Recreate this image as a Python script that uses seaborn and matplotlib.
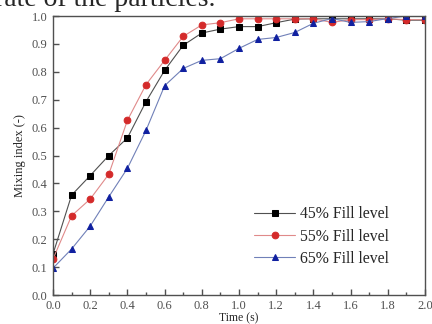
import matplotlib
matplotlib.use("Agg")
import matplotlib.pyplot as plt
import seaborn as sns
import pandas as pd
from matplotlib.ticker import MultipleLocator

time_s = [0.0, 0.1, 0.2, 0.3, 0.4, 0.5, 0.6, 0.7, 0.8, 0.9, 1.0,
          1.1, 1.2, 1.3, 1.4, 1.5, 1.6, 1.7, 1.8, 1.9, 2.0]
fill_45 = [0.147, 0.358, 0.428, 0.500, 0.563, 0.693, 0.805, 0.895, 0.939, 0.953, 0.962,
           0.962, 0.976, 0.989, 0.990, 0.990, 0.990, 0.990, 0.990, 0.985, 0.985]
fill_55 = [0.129, 0.284, 0.344, 0.433, 0.626, 0.754, 0.841, 0.927, 0.968, 0.976, 0.990,
           0.990, 0.990, 0.990, 0.990, 0.977, 0.987, 0.987, 0.990, 0.987, 0.987]
fill_65 = [0.096, 0.165, 0.247, 0.352, 0.454, 0.590, 0.750, 0.812, 0.841, 0.847, 0.884,
           0.916, 0.923, 0.941, 0.974, 0.991, 0.977, 0.980, 0.991, 1.000, 1.000]
labels = ["45% Fill level", "55% Fill level", "65% Fill level"]

sns.set_style("ticks")
plt.rcParams["font.family"] = ["Liberation Serif", "DejaVu Serif"]

df = pd.DataFrame({"time": time_s, labels[0]: fill_45, labels[1]: fill_55, labels[2]: fill_65})

fig = plt.figure(figsize=(4.32, 3.24), dpi=100)
ax = fig.add_axes([0.1227, 0.0895, 0.8611, 0.8611])

# (label, line colour, marker colour, marker)
styles = [
    (labels[0], "#505050", "#000000", "s"),
    (labels[1], "#e08a8a", "#d42a2a", "o"),
    (labels[2], "#7080b8", "#1020a0", "^"),
]
for lab, lc, mc, mk in styles:
    sns.lineplot(data=df, x="time", y=lab, ax=ax, label=lab, color=lc, lw=0.8,
                 marker=mk, markersize=4.8, markerfacecolor=mc, markeredgecolor=mc)

ax.set_xlim(0, 2.0)
ax.set_ylim(0, 1.0)
ax.xaxis.set_major_locator(MultipleLocator(0.2))
ax.xaxis.set_minor_locator(MultipleLocator(0.1))
ax.yaxis.set_major_locator(MultipleLocator(0.1))
ax.tick_params(which="both", direction="in", top=False, right=False,
               labelsize=9, colors="#505050", width=1.0)
ax.tick_params(which="major", length=4, pad=4)
ax.tick_params(axis="x", which="major", pad=3.5)
ax.tick_params(which="minor", length=2.5)
for s in ax.spines.values():
    s.set_color("#505050")
    s.set_linewidth(1.0)

ax.set_xlabel("Time (s)", fontsize=8.5, labelpad=0.3)
ax.set_ylabel("Mixing index (-)", fontsize=9, labelpad=4)

ax.legend(loc="lower right", frameon=False, fontsize=11.3, handlelength=2.6,
          handletextpad=0.3, labelspacing=0.4, bbox_to_anchor=(0.94, 0.05))

fig.text(-0.012, 1.0, "rate of the particles.", fontsize=20, va="center", ha="left")

fig.savefig("out.png", dpi=100)
